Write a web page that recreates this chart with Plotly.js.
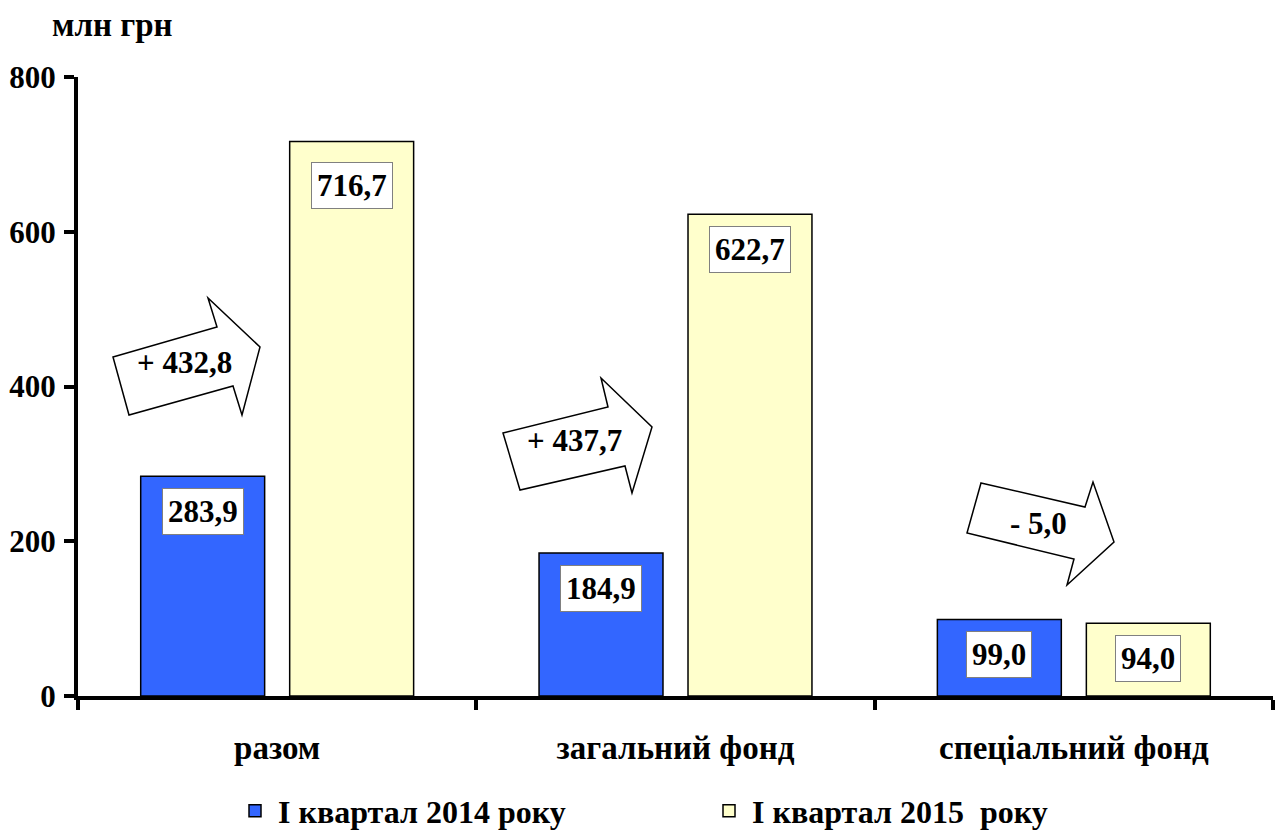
<!DOCTYPE html>
<html>
<head>
<meta charset="utf-8">
<script src="https://cdn.plot.ly/plotly-3.0.1.min.js"></script>
<style>html,body{margin:0;padding:0;background:#fff;}#chart{width:1277px;height:830px;}</style>
</head>
<body>
<div id="chart"></div>
<script>
const categories = ["разом", "загальний фонд", "спеціальний фонд"];
const seriesNames = ["I квартал 2014 року", "I квартал 2015  року"];
const values2014 = [283.9, 184.9, 99.0];
const values2015 = [716.7, 622.7, 94.0];
const changeLabels = ["+ 432,8", "+ 437,7", "- 5,0"];
const yTicks = [0, 200, 400, 600, 800];
const unitLabel = "млн грн";

const W = 1277, H = 830;
const M = {l: 78, r: 4, t: 77, b: 134, autoexpand: false};
const PW = W - M.l - M.r, PH = H - M.t - M.b;
const px = x => (x - M.l) / PW;
const py = y => (M.t + PH - y) / PH;

const FONT = "Liberation Serif, Times New Roman, serif";
const fmt = v => v.toFixed(1).replace('.', ',');

// decorative arrow outlines (pixel positions in the picture)
const arrowShapes = [
  [[113,357],[217,327],[208,298],[260,347],[242,415],[233,386],[129,415]],
  [[503,433],[608,407],[601,378],[652,427],[632,493],[625,466],[520,490]],
  [[981,483],[1085,507],[1093,482],[1114,542],[1067,585],[1074,559],[967,533]]
];
const arrowTextPos = [[184,362],[574,440],[1038,523]];

const bargap = 0.252, bargroupgap = 0.168;
const catW = PW / categories.length;
const off = catW * (1 - bargap) / 4;

const traces = [
  {type: 'bar', name: seriesNames[0], x: categories, y: values2014,
   marker: {color: '#3366FF', line: {color: '#000', width: 1.5}}, hoverinfo: 'none'},
  {type: 'bar', name: seriesNames[1], x: categories, y: values2015,
   marker: {color: '#FFFFCC', line: {color: '#000', width: 1.5}}, hoverinfo: 'none'}
];

const annotations = [];
[values2014, values2015].forEach((vals, si) => {
  vals.forEach((v, i) => {
    annotations.push({
      xref: 'x', yref: 'y', x: categories[i], y: v, xshift: si === 0 ? -off : off,
      yshift: v > 700 ? -21 : -12, yanchor: 'top', showarrow: false, text: fmt(v),
      font: {family: FONT, size: 31, color: '#000', weight: 'bold'},
      bgcolor: '#fff', bordercolor: '#808080', borderwidth: 1, borderpad: 5
    });
  });
});
changeLabels.forEach((t, i) => {
  annotations.push({
    xref: 'paper', yref: 'paper', x: px(arrowTextPos[i][0]), y: py(arrowTextPos[i][1]),
    xanchor: 'center', yanchor: 'middle', showarrow: false, text: t,
    font: {family: FONT, size: 31, color: '#000', weight: 'bold'}
  });
});
annotations.push({
  xref: 'paper', yref: 'paper', x: px(112), y: py(25), xanchor: 'center', yanchor: 'middle',
  showarrow: false, text: unitLabel, font: {family: FONT, size: 33, color: '#000', weight: 'bold'}
});

const shapes = arrowShapes.map(pts => ({
  type: 'path', xref: 'paper', yref: 'paper', layer: 'above',
  path: 'M' + pts.map(p => px(p[0]) + ',' + py(p[1])).join('L') + 'Z',
  fillcolor: '#fff', line: {color: '#000', width: 1.5}
}));

const layout = {
  width: W, height: H, margin: M,
  paper_bgcolor: '#fff', plot_bgcolor: '#fff',
  barmode: 'group', bargap: bargap, bargroupgap: bargroupgap,
  font: {family: FONT, color: '#000'},
  xaxis: {
    type: 'category', showline: true, linecolor: '#000', linewidth: 4,
    ticks: 'outside', tickson: 'boundaries', ticklen: 10, tickwidth: 4, tickcolor: '#000',
    tickfont: {family: FONT, size: 33, color: '#000', weight: 'bold'},
    ticklabelstandoff: 19, showgrid: false, zeroline: false, fixedrange: true
  },
  yaxis: {
    range: [0, 800], tickvals: yTicks, ticktext: yTicks.map(String),
    showline: true, linecolor: '#000', linewidth: 4,
    ticks: 'outside', ticklen: 10, tickwidth: 4, tickcolor: '#000',
    tickfont: {family: FONT, size: 31, color: '#000', weight: 'bold'},
    ticklabelstandoff: 2, showgrid: false, zeroline: false, fixedrange: true
  },
  showlegend: true,
  legend: {
    orientation: 'h', x: px(232), xanchor: 'left', y: py(811), yanchor: 'middle',
    font: {family: FONT, size: 32, color: '#000', weight: 'bold'},
    entrywidth: 423, itemwidth: 36, bgcolor: 'rgba(0,0,0,0)'
  },
  shapes: shapes,
  annotations: annotations
};

Plotly.newPlot('chart', traces, layout, {displayModeBar: false, staticPlot: true});
</script>
</body>
</html>
